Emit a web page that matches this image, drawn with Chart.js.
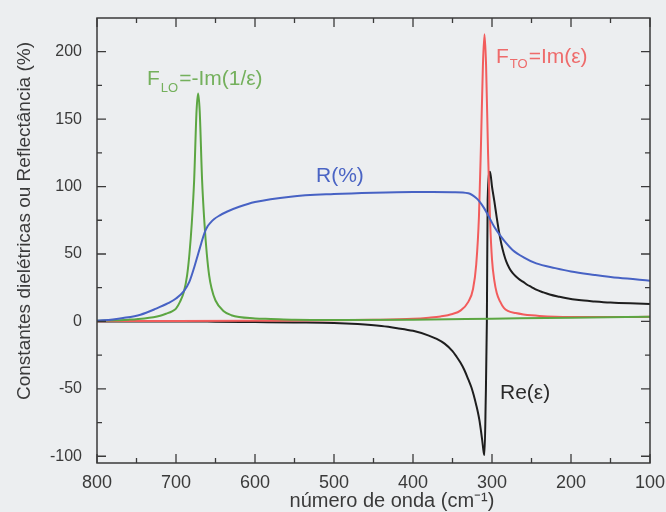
<!DOCTYPE html>
<html>
<head>
<meta charset="utf-8">
<script src="https://cdn.jsdelivr.net/npm/chart.js@4.4.1/dist/chart.umd.min.js"></script>
<style>
    html, body { margin: 0; padding: 0; background: #eceef0; }
    #wrap { width: 666px; height: 512px; position: relative; }
</style>
</head>
<body>
<div id="wrap"><canvas id="chart"></canvas></div>
<script>
        // wave number (cm-1) and values
        const xTicks = [800, 700, 600, 500, 400, 300, 200, 100];
        const xMinor = [750, 650, 550, 450, 350, 250, 150];
        const yTicks = [-100, -50, 0, 50, 100, 150, 200];
        const yMinor = [-75, -25, 25, 75, 125, 175];

        // R(%)
        const xR = [100, 140, 170, 200, 220, 244, 260, 274, 282, 290, 297, 303, 310, 316, 320, 330, 350, 375, 400, 450, 500, 555, 600, 620, 635, 645, 652, 656, 660, 664, 668, 672, 677, 683, 690, 700, 710, 725, 745, 767, 780, 800];
        const rPct = [30.2, 32.3, 34.5, 37, 39.5, 43, 47.5, 53, 58, 64, 70, 76.6, 84, 89, 91.5, 95, 95.8, 96, 96, 95.5, 94.5, 92.5, 88.5, 85, 81.5, 78.5, 75.8, 73.5, 70.5, 65.5, 58, 50, 40, 29.5, 22.5, 17, 13.5, 9.5, 5, 2.5, 1.5, 0.5];

        // Re(eps)
        const xRe = [100, 125, 150, 170, 190, 207, 215, 227, 235, 244, 250, 255, 261, 265, 270, 274, 278, 282, 285, 288, 291, 294, 297, 300, 302.5, 305.5, 306.5, 308, 309.5, 310.5, 312, 314, 316, 318, 320, 323, 326, 330, 335, 340, 345, 350, 360, 370, 380, 400, 420, 440, 470, 500, 550, 600, 650, 680, 700, 750, 800];
        const reEps = [13, 13.4, 14, 14.8, 15.8, 17.3, 18.3, 20, 21.5, 23.5, 25.5, 27, 29.5, 31, 33.5, 36, 39.5, 44.5, 50, 57, 66, 77, 89, 100, 111, 90, 0, -60, -99, -97, -90, -81, -73, -67, -62, -55, -49, -43, -36, -30.5, -26, -22, -16.5, -13, -10.5, -7, -5, -3.4, -2, -1.2, -0.8, -0.5, -0.2, 0, 0, 0, 0];

        // F_LO = -Im(1/eps)
        const xLO = [100, 200, 300, 400, 500, 550, 580, 600, 630, 640, 650, 655, 658, 661, 664, 667, 670, 672, 674, 677, 680, 683, 686, 690, 695, 700, 705, 712, 720, 740, 760, 800];
        const fLO = [3.5, 2.8, 2, 1.2, 1, 1.2, 1.8, 2.2, 4.6, 7.7, 15.5, 24.6, 34, 50, 73, 105, 156, 169, 156, 105, 73, 50, 34, 22, 14.5, 9.5, 7.5, 5.8, 4.2, 2.2, 1.3, 0.5];

        // F_TO = Im(eps)
        const xTO = [100, 150, 200, 220, 240, 250, 260, 270, 280, 285, 290, 294, 297, 300, 302.5, 305, 307.5, 309.5, 311.5, 314, 316.5, 320, 324, 330, 340, 350, 365, 380, 400, 450, 500, 600, 700, 800];
        const fTO = [3.4, 3.2, 3.2, 3.4, 4, 4.5, 5.2, 6.2, 7.8, 10, 15, 21, 30, 46, 76, 125, 190, 213, 190, 130, 78, 42, 24, 14.5, 8, 5.5, 3.7, 2.8, 2, 1.2, 0.8, 0.5, 0.3, 0.2];

        const pts = (xs, ys) => xs.map((x, i) => ({ x: x, y: ys[i] }));

        const FONT = '"Liberation Sans", Arial, sans-serif';
        const INK = '#3a3a3a';

        // frame, inward ticks, axis titles and curve labels
        const decor = {
            id: 'decor',
            beforeDraw(chart) {
                const ctx = chart.ctx;
                ctx.save();
                ctx.fillStyle = '#eceef0';
                ctx.fillRect(0, 0, chart.width, chart.height);
                ctx.restore();
            },
            afterDraw(chart) {
                const ctx = chart.ctx;
                const a = chart.chartArea;
                const xs = chart.scales.x, ys = chart.scales.y;
                ctx.save();
                ctx.strokeStyle = INK;
                ctx.lineWidth = 1.5;
                ctx.strokeRect(a.left, a.top, a.right - a.left, a.bottom - a.top);

                ctx.lineWidth = 1.3;
                const tickX = (v, len) => {
                    const p = xs.getPixelForValue(v);
                    ctx.beginPath();
                    ctx.moveTo(p, a.bottom); ctx.lineTo(p, a.bottom - len);
                    ctx.moveTo(p, a.top); ctx.lineTo(p, a.top + len);
                    ctx.stroke();
                };
                const tickY = (v, len) => {
                    const p = ys.getPixelForValue(v);
                    ctx.beginPath();
                    ctx.moveTo(a.left, p); ctx.lineTo(a.left + len, p);
                    ctx.moveTo(a.right, p); ctx.lineTo(a.right - len, p);
                    ctx.stroke();
                };
                xTicks.forEach(v => tickX(v, 9));
                xMinor.forEach(v => tickX(v, 5));
                yTicks.forEach(v => tickY(v, 9));
                yMinor.forEach(v => tickY(v, 5));

                // axis titles
                ctx.fillStyle = INK;
                ctx.font = '20px ' + FONT;
                ctx.textAlign = 'center';
                ctx.textBaseline = 'middle';
                ctx.fillText('número de onda (cm⁻¹)', 392, 501);
                ctx.save();
                ctx.translate(25, 221);
                ctx.rotate(-Math.PI / 2);
                ctx.font = '19px ' + FONT;
                ctx.fillText('Constantes dielétricas ou Reflectância (%)', 0, 0);
                ctx.restore();

                // curve labels
                ctx.textAlign = 'left';
                ctx.textBaseline = 'alphabetic';
                const label = (x, y, main, sub, dy, rest, color) => {
                    ctx.fillStyle = color;
                    ctx.font = '21px ' + FONT;
                    ctx.fillText(main, x, y);
                    let w = ctx.measureText(main).width;
                    if (sub) {
                        ctx.font = '13px ' + FONT;
                        ctx.fillText(sub, x + w + 1, y + dy);
                        w += ctx.measureText(sub).width + 2;
                    }
                    ctx.font = '21px ' + FONT;
                    ctx.fillText(rest, x + w, y);
                };
                label(147, 85, 'F', 'LO', 7, '=-Im(1/ε)', '#74b05c');
                label(496, 63, 'F', 'TO', 5, '=Im(ε)', '#ee6b6b');
                label(316, 182, 'R(%)', '', 0, '', '#4a64c4');
                label(500, 399, 'Re(ε)', '', 0, '', '#2a2a2a');
                ctx.restore();
            }
        };

        const line = (label, data, color) => ({
            label: label,
            data: data,
            borderColor: color,
            backgroundColor: color,
            borderWidth: 2,
            pointRadius: 0,
            fill: false,
            showLine: true,
            cubicInterpolationMode: 'monotone'
        });

        // first dataset ends up on top
        new Chart(document.getElementById('chart'), {
            type: 'scatter',
            data: {
                datasets: [
                    line('R(%)', pts(xR, rPct), '#4762c4'),
                    line('F_LO', pts(xLO, fLO), '#5ca642'),
                    line('F_TO', pts(xTO, fTO), '#f25c5c'),
                    line('Re(ε)', pts(xRe, reEps), '#1e1e1e')
                ]
            },
            options: {
                responsive: true,
                maintainAspectRatio: false,
                animation: false,
                layout: { padding: { left: 0, right: 16, top: 18, bottom: 0 } },
                plugins: { legend: { display: false }, tooltip: { enabled: false } },
                scales: {
                    x: {
                        type: 'linear',
                        reverse: true,
                        min: 100,
                        max: 800,
                        grid: { display: false, drawTicks: false },
                        border: { display: false },
                        afterBuildTicks: s => { s.ticks = xTicks.map(v => ({ value: v })); },
                        afterFit: s => { s.height = 49; s.paddingLeft = 0; s.paddingRight = 0; },
                        ticks: { color: INK, padding: 9, font: { family: FONT, size: 18 }, maxRotation: 0 }
                    },
                    y: {
                        min: -105,
                        max: 225,
                        grid: { display: false, drawTicks: false },
                        border: { display: false },
                        afterBuildTicks: s => { s.ticks = yTicks.map(v => ({ value: v })); },
                        afterFit: s => { s.width = 97; s.paddingTop = 0; s.paddingBottom = 0; },
                        ticks: { color: INK, padding: 15, font: { family: FONT, size: 16 } }
                    }
                }
            },
            plugins: [decor]
        });
</script>
</body>
</html>
